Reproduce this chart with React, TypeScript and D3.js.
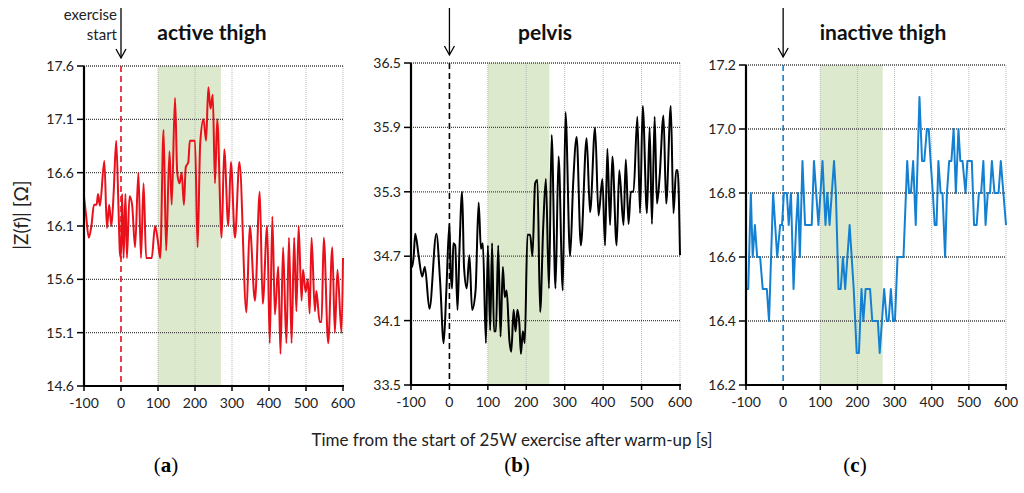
import React from "react";
import * as d3 from "d3";

// time axis shared by all three panels [s]
const timeTicks = [-100, 0, 100, 200, 300, 400, 500, 600];

// (a) active thigh
const activeTimes = [
  -100, -95, -87, -80, -73, -66, -62, -57, -45, -38, -32, -26, -20, -13, -7, -3, 0, 3, 7, 12,
  16, 23, 30, 38, 47, 54, 61, 68, 75, 83, 92, 100, 106, 115, 122, 131, 137, 146, 152, 158,
  164, 170, 175, 182, 186, 200, 207, 214, 223, 230, 236, 242, 248, 254, 260, 272, 279, 290, 297, 308,
  320, 339, 348, 362, 375, 383, 395, 402, 409, 416, 425, 431, 438, 447, 454, 461, 468, 474, 480, 488,
  492, 499, 505, 510, 515, 524, 528, 537, 542, 548, 560, 571, 578, 585, 596, 600,
];
const activeValues = [
  16.37, 16.22, 15.99, 16.1, 16.3, 16.3, 16.4, 16.29, 16.71, 16.08, 16.3, 16.1, 16.4, 16.9, 16.3, 15.85, 15.8, 16.4, 15.8, 16.4,
  15.8, 16.38, 16.3, 15.9, 16.6, 15.8, 16.5, 15.8, 15.8, 15.8, 16.1, 15.95, 15.8, 17.0, 15.87, 16.8, 16.3, 17.3, 16.6, 16.5,
  16.6, 16.3, 16.65, 16.7, 16.9, 16.9, 15.9, 16.87, 17.1, 16.9, 17.4, 17.2, 17.33, 16.5, 17.1, 15.99, 16.82, 16.1, 16.7, 15.99,
  16.7, 15.29, 16.1, 15.4, 16.42, 15.37, 16.1, 15.0, 16.19, 15.27, 15.72, 14.9, 15.9, 15.0, 15.99, 15.0, 15.99, 15.3, 16.1, 15.4,
  15.69, 15.48, 15.6, 15.28, 15.99, 15.3, 15.49, 15.2, 15.2, 15.99, 15.0, 15.9, 15.1, 15.69, 15.1, 15.8,
];
const activeTicks = [14.6, 15.1, 15.6, 16.1, 16.6, 17.1, 17.6];

// (b) pelvis
const pelvisTimes = [
  -100, -97, -93, -89, -80, -71, -64, -52, -34, -24, -15, -8, 0, 3, 7, 10, 15, 21, 26, 33,
  38, 45, 52, 59, 68, 76, 82, 87, 95, 100, 106, 111, 116, 121, 127, 133, 139, 144, 149, 156,
  161, 167, 172, 177, 182, 186, 191, 196, 203, 210, 216, 223, 229, 236, 244, 251, 259, 266, 276, 284,
  295, 302, 314, 322, 331, 342, 357, 366, 379, 388, 398, 405, 411, 418, 424, 435, 442, 453, 459, 466,
  472, 479, 489, 496, 503, 514, 521, 527, 534, 540, 547, 557, 564, 576, 583, 590, 594, 600,
];
const pelvisValues = [
  34.65, 34.6, 34.7, 34.91, 34.7, 34.51, 34.6, 34.21, 34.91, 34.45, 33.89, 34.38, 35.0, 34.57, 34.4, 34.82, 34.8, 34.2, 34.75, 35.3,
  34.6, 34.4, 34.71, 34.2, 34.38, 35.2, 34.77, 34.82, 33.89, 34.8, 34.01, 34.82, 34.0, 34.0, 34.8, 33.95, 34.6, 34.32, 34.38, 33.92,
  33.81, 34.2, 34.0, 34.2, 34.07, 33.79, 34.0, 33.89, 34.9, 34.9, 34.7, 35.38, 35.41, 34.18, 34.97, 35.42, 34.4, 35.83, 34.4, 35.63,
  34.38, 36.04, 34.7, 35.38, 35.81, 34.8, 35.8, 35.11, 35.9, 35.08, 35.42, 34.8, 35.7, 34.99, 35.63, 34.8, 35.5, 34.99, 35.6, 35.0,
  35.3, 35.3, 36.0, 35.1, 36.1, 35.1, 35.9, 35.0, 36.0, 35.19, 35.44, 36.01, 35.19, 36.1, 35.1, 35.5, 35.5, 34.71,
];
const pelvisTicks = [33.5, 34.1, 34.7, 35.3, 35.9, 36.5];

// (c) inactive thigh
const inactiveTimes = [
  -100, -94, -87, -82, -76, -70, -62, -55, -44, -38, -27, -16, -8, -3, 2, 10, 15, 21, 28, 35,
  40, 45, 52, 59, 77, 83, 95, 106, 114, 119, 125, 137, 142, 149, 155, 161, 167, 179, 190, 198,
  204, 211, 216, 222, 234, 240, 250, 255, 260, 272, 279, 284, 290, 296, 301, 308, 324, 334, 339, 344,
  350, 357, 367, 374, 380, 387, 392, 397, 403, 408, 413, 418, 424, 429, 436, 441, 447, 453, 459, 465,
  472, 477, 483, 491, 496, 508, 514, 521, 527, 533, 539, 545, 551, 557, 562, 569, 580, 586, 593, 600,
];
const inactiveValues = [
  16.5, 16.5, 16.8, 16.6, 16.7, 16.6, 16.6, 16.5, 16.5, 16.4, 16.8, 16.6, 16.7, 16.7, 16.8, 16.8, 16.7, 16.8, 16.5, 16.7,
  16.8, 16.6, 16.9, 16.7, 16.7, 16.9, 16.7, 16.9, 16.7, 16.8, 16.7, 16.9, 16.8, 16.5, 16.5, 16.6, 16.5, 16.7, 16.5, 16.3,
  16.3, 16.5, 16.4, 16.5, 16.5, 16.4, 16.4, 16.4, 16.3, 16.5, 16.4, 16.4, 16.5, 16.4, 16.4, 16.6, 16.6, 16.9, 16.8, 16.8,
  16.9, 16.7, 17.1, 16.9, 16.9, 17.0, 17.0, 16.9, 16.8, 16.7, 16.7, 16.9, 16.8, 16.8, 16.6, 16.8, 16.9, 16.9, 17.0, 16.8,
  17.0, 16.9, 16.9, 16.8, 16.9, 16.9, 16.7, 16.7, 16.8, 16.8, 16.9, 16.7, 16.8, 16.8, 16.9, 16.8, 16.8, 16.9, 16.8, 16.7,
];
const inactiveTicks = [16.2, 16.4, 16.6, 16.8, 17.0, 17.2];

const font = "Lato, 'Open Sans', sans-serif";

type PanelProps = {
  box: { left: number; right: number; top: number; bottom: number };
  times: number[];
  values: number[];
  yTicks: number[];
  color: string;
  title: string;
  titleX: number;
  bandEnd: number;
  letter: string;
  letterX: number;
  smooth?: boolean;
  startLabel?: boolean;
};

function Panel({ box, times, values, yTicks, color, title, titleX, bandEnd, letter, letterX, smooth, startLabel }: PanelProps) {
  const x = d3.scaleLinear().domain([-100, 600]).range([box.left, box.right]);
  const y = d3
    .scaleLinear()
    .domain([yTicks[0], yTicks[yTicks.length - 1]])
    .range([box.bottom, box.top]);

  const line = d3
    .line<number>()
    .x((_, i) => x(times[i]))
    .y((d) => y(d))
    .curve(smooth ? d3.curveMonotoneX : d3.curveLinear);

  const x0 = x(0);

  return (
    <g>
      {/* exercise window */}
      <rect x={x(100)} y={box.top} width={x(bandEnd) - x(100)} height={box.bottom - box.top} fill="#dde9cc" />

      {/* vertical grid */}
      {timeTicks
        .filter((t) => t > 0)
        .map((t) => (
          <line key={t} x1={x(t)} x2={x(t)} y1={box.top} y2={box.bottom} stroke="#b8b8b8" strokeWidth={1} strokeDasharray="1,1" />
        ))}

      {/* horizontal grid */}
      {yTicks.slice(1).map((v) => (
        <line key={v} x1={box.left} x2={box.right} y1={y(v)} y2={y(v)} stroke="#444" strokeWidth={1.3} strokeDasharray="1,1" />
      ))}

      {/* exercise start */}
      <line x1={x0} x2={x0} y1={box.top} y2={box.bottom} stroke={color} strokeWidth={1.6} strokeDasharray="6,4" />

      <path d={line(values) ?? ""} fill="none" stroke={color} strokeWidth={2} strokeLinejoin="round" />

      {/* axes */}
      <line x1={box.left} x2={box.left} y1={box.top} y2={box.bottom + 1} stroke="#000" strokeWidth={2.2} />
      <line x1={box.left - 1} x2={box.right + 1} y1={box.bottom} y2={box.bottom} stroke="#000" strokeWidth={2.2} />
      {yTicks.map((v) => (
        <g key={v}>
          <line x1={box.left - 7} x2={box.left} y1={y(v)} y2={y(v)} stroke="#000" strokeWidth={1.5} />
          <text x={box.left - 10} y={y(v)} dy="0.35em" textAnchor="end" fontSize={14} fontFamily={font} fill="#222">
            {v.toFixed(1)}
          </text>
        </g>
      ))}
      {timeTicks.map((t) => (
        <g key={"t" + t}>
          <line x1={x(t)} x2={x(t)} y1={box.bottom} y2={box.bottom + 5} stroke="#000" strokeWidth={1.5} />
          <text x={x(t)} y={box.bottom + 22} textAnchor="middle" fontSize={14} fontFamily={font} fill="#222">
            {t}
          </text>
        </g>
      ))}

      {/* arrow */}
      <line x1={x0} x2={x0} y1={8} y2={box.top - 8} stroke="#000" strokeWidth={1.3} />
      <path d={`M${x0 - 5},${box.top - 17} L${x0},${box.top - 8} L${x0 + 5},${box.top - 17}`} fill="none" stroke="#000" strokeWidth={1.3} />
      {startLabel && (
        <text textAnchor="end" fontSize={15} fontFamily={font} fill="#222">
          <tspan x={x0 - 4} y={20}>exercise</tspan>
          <tspan x={x0 - 4} y={40}>start</tspan>
        </text>
      )}

      <text x={titleX} y={40} textAnchor="middle" fontSize={21} fontWeight="bold" fontFamily={font} fill="#111">
        {title}
      </text>

      <text x={letterX} y={472} textAnchor="middle" fontSize={21} fontFamily="'Liberation Serif', serif" fill="#000">
        (<tspan fontWeight="bold">{letter}</tspan>)
      </text>
    </g>
  );
}

export default function App() {
  return (
    <>
      <style>{`body{margin:0}`}</style>
      <svg width={1024} height={493} style={{ display: "block", background: "#fff" }}>
        <Panel
          box={{ left: 84, right: 343, top: 66, bottom: 386 }}
          times={activeTimes}
          values={activeValues}
          yTicks={activeTicks}
          color="#e8101a"
          title="active thigh"
          titleX={212}
          bandEnd={270}
          letter="a"
          letterX={166}
          smooth
          startLabel
        />
        <Panel
          box={{ left: 411, right: 680, top: 63, bottom: 385 }}
          times={pelvisTimes}
          values={pelvisValues}
          yTicks={pelvisTicks}
          color="#000"
          title="pelvis"
          titleX={545}
          bandEnd={260}
          letter="b"
          letterX={517}
          smooth
        />
        <Panel
          box={{ left: 746, right: 1006, top: 65, bottom: 385 }}
          times={inactiveTimes}
          values={inactiveValues}
          yTicks={inactiveTicks}
          color="#1480d2"
          title="inactive thigh"
          titleX={883}
          bandEnd={268}
          letter="c"
          letterX={855}
        />
        <text transform="translate(28,215) rotate(-90)" textAnchor="middle" fontSize={19} fontFamily={font} fill="#222">
          |Z(f)| [Ω]
        </text>
        <text x={512} y={446} textAnchor="middle" fontSize={17} fontFamily={font} fill="#222">
          Time from the start of 25W exercise after warm-up [s]
        </text>
      </svg>
    </>
  );
}
